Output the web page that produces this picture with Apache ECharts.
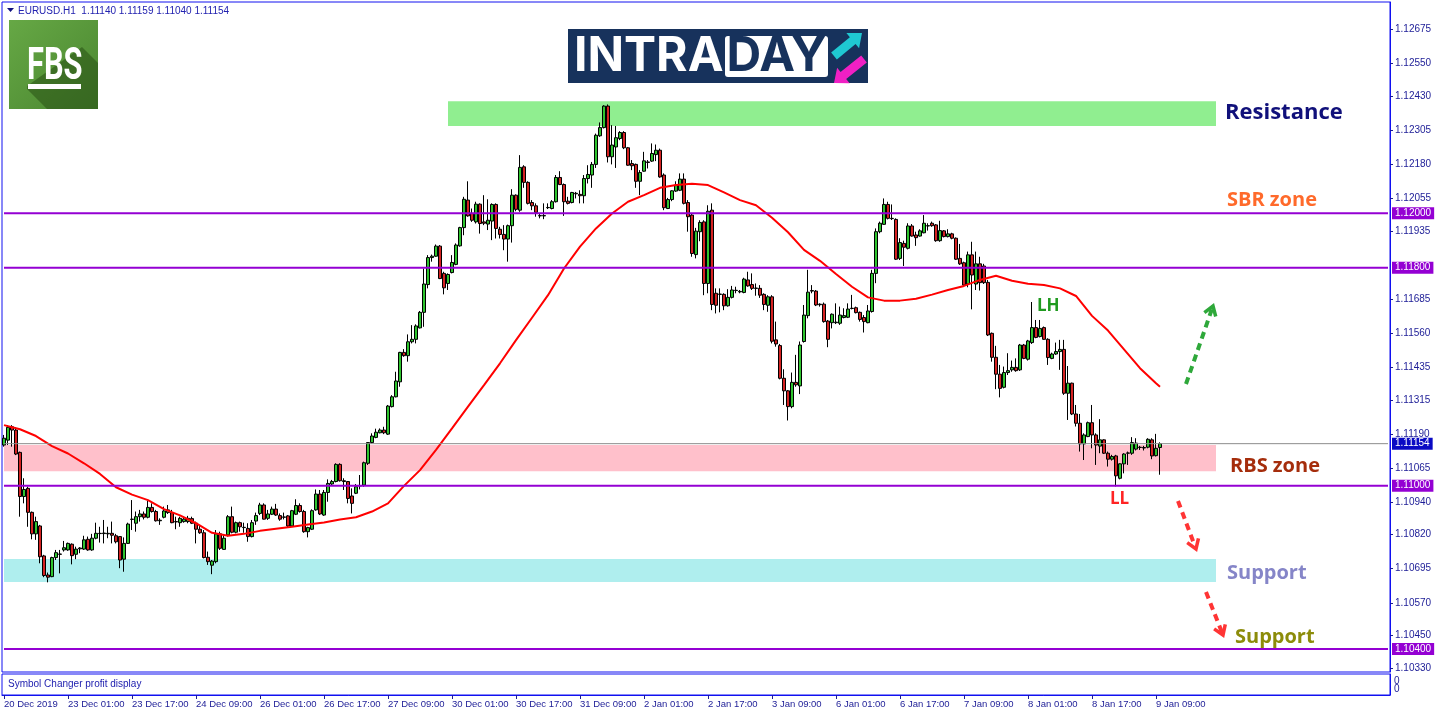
<!DOCTYPE html>
<html><head><meta charset="utf-8">
<script src="https://cdn.jsdelivr.net/npm/echarts@6/dist/echarts.min.js"></script>
<style>html,body{margin:0;padding:0;background:#fff}#c{width:1436px;height:716px}</style>
</head><body><div id="c"></div>
<script>
// ---------------- DATA ----------------
const symbolTitle = 'EURUSD.H1  1.11140 1.11159 1.11040 1.11154';
const tickLabels = ['20 Dec 2019','23 Dec 01:00','23 Dec 17:00','24 Dec 09:00','26 Dec 01:00','26 Dec 17:00','27 Dec 09:00','30 Dec 01:00','30 Dec 17:00','31 Dec 09:00','2 Jan 01:00','2 Jan 17:00','3 Jan 09:00','6 Jan 01:00','6 Jan 17:00','7 Jan 09:00','8 Jan 01:00','8 Jan 17:00','9 Jan 09:00'];
const barsPerTick = 16;
const totalSlots = 347; // H1 bars incl. empty future space
// [open, close, low, high]
const candles = [
[1.11149,1.11174,1.11143,1.11186],[1.11167,1.11214,1.11149,1.11222],[1.11216,1.11204,1.11143,1.11222],[1.11204,1.11116,1.11112,1.11214],
[1.11122,1.10960,1.10886,1.11125],[1.10960,1.10986,1.10935,1.11027],[1.10990,1.10902,1.10849,1.10996],[1.10902,1.10823,1.10803,1.10905],
[1.10823,1.10868,1.10801,1.10886],[1.10852,1.10739,1.10715,1.10856],[1.10742,1.10670,1.10664,1.10746],[1.10672,1.10664,1.10645,1.10681],
[1.10666,1.10736,1.10664,1.10739],[1.10736,1.10754,1.10727,1.10764],[1.10749,1.10748,1.10678,1.10764],[1.10764,1.10772,1.10758,1.10797],
[1.10764,1.10788,1.10761,1.10791],[1.10785,1.10743,1.10711,1.10788],[1.10748,1.10767,1.10730,1.10776],[1.10768,1.10771,1.10752,1.10774],
[1.10767,1.10801,1.10764,1.10816],[1.10803,1.10764,1.10761,1.10813],[1.10764,1.10807,1.10761,1.10823],[1.10807,1.10825,1.10803,1.10864],
[1.10825,1.10824,1.10791,1.10849],[1.10824,1.10826,1.10788,1.10874],[1.10823,1.10825,1.10807,1.10849],[1.10825,1.10818,1.10788,1.10868],
[1.10816,1.10794,1.10788,1.10823],[1.10813,1.10727,1.10697,1.10815],[1.10730,1.10788,1.10684,1.10810],[1.10788,1.10859,1.10786,1.10864],
[1.10876,1.10877,1.10837,1.10947],[1.10862,1.10886,1.10831,1.10905],[1.10886,1.10896,1.10868,1.10911],[1.10896,1.10884,1.10876,1.10905],
[1.10884,1.10920,1.10880,1.10945],[1.10920,1.10905,1.10901,1.10935],[1.10905,1.10871,1.10868,1.10911],[1.10871,1.10873,1.10856,1.10880],
[1.10884,1.10907,1.10880,1.10923],[1.10901,1.10911,1.10896,1.10929],[1.10901,1.10864,1.10862,1.10911],[1.10868,1.10867,1.10840,1.10886],
[1.10864,1.10880,1.10849,1.10886],[1.10868,1.10877,1.10864,1.10886],[1.10868,1.10880,1.10862,1.10889],[1.10879,1.10862,1.10859,1.10886],
[1.10862,1.10840,1.10788,1.10868],[1.10840,1.10827,1.10823,1.10856],[1.10827,1.10736,1.10733,1.10837],[1.10737,1.10721,1.10709,1.10758],
[1.10708,1.10723,1.10675,1.10727],[1.10721,1.10823,1.10715,1.10837],[1.10823,1.10770,1.10764,1.10831],[1.10766,1.10807,1.10764,1.10819],
[1.10819,1.10886,1.10813,1.10892],[1.10886,1.10829,1.10825,1.10923],[1.10829,1.10864,1.10825,1.10868],[1.10864,1.10849,1.10831,1.10868],
[1.10846,1.10847,1.10827,1.10864],[1.10843,1.10813,1.10794,1.10862],[1.10813,1.10864,1.10810,1.10874],[1.10870,1.10890,1.10856,1.10901],
[1.10898,1.10929,1.10892,1.10937],[1.10929,1.10877,1.10876,1.10935],[1.10880,1.10896,1.10874,1.10911],[1.10895,1.10914,1.10892,1.10923],
[1.10914,1.10892,1.10889,1.10933],[1.10890,1.10877,1.10871,1.10898],[1.10884,1.10885,1.10876,1.10901],[1.10889,1.10852,1.10847,1.10892],
[1.10852,1.10908,1.10849,1.10911],[1.10895,1.10927,1.10892,1.10950],[1.10927,1.10905,1.10901,1.10935],[1.10905,1.10831,1.10827,1.10911],
[1.10831,1.10846,1.10810,1.10849],[1.10840,1.10908,1.10837,1.10913],[1.10911,1.10969,1.10908,1.10986],[1.10969,1.10896,1.10892,1.10984],
[1.10892,1.10975,1.10889,1.10984],[1.10975,1.11008,1.10941,1.11023],[1.11006,1.11015,1.11002,1.11021],[1.11015,1.11078,1.11012,1.11082],
[1.11078,1.11018,1.11015,1.11082],[1.11018,1.11015,1.10984,1.11027],[1.11015,1.10953,1.10935,1.11017],[1.10962,1.10935,1.10898,1.10990],
[1.10972,1.10996,1.10969,1.11006],[1.10999,1.11000,1.10986,1.11039],[1.11002,1.11084,1.10996,1.11088],[1.11082,1.11158,1.11076,1.11160],
[1.11158,1.11182,1.11155,1.11192],[1.11177,1.11196,1.11174,1.11209],[1.11194,1.11204,1.11192,1.11210],[1.11204,1.11194,1.11189,1.11216],
[1.11189,1.11292,1.11186,1.11296],[1.11290,1.11326,1.11287,1.11332],[1.11326,1.11384,1.11324,1.11418],[1.11381,1.11489,1.11363,1.11491],
[1.11489,1.11477,1.11473,1.11501],[1.11477,1.11528,1.11455,1.11555],[1.11528,1.11537,1.11522,1.11589],[1.11537,1.11586,1.11522,1.11592],
[1.11579,1.11636,1.11577,1.11641],[1.11636,1.11740,1.11583,1.11797],[1.11738,1.11837,1.11724,1.11846],[1.11837,1.11842,1.11822,1.11848],
[1.11842,1.11879,1.11840,1.11885],[1.11879,1.11760,1.11758,1.11883],[1.11779,1.11726,1.11702,1.11785],[1.11742,1.11775,1.11718,1.11779],
[1.11782,1.11819,1.11779,1.11846],[1.11812,1.11883,1.11809,1.11889],[1.11880,1.11947,1.11877,1.11950],[1.11947,1.12051,1.11919,1.12060],
[1.12048,1.11990,1.11987,1.12117],[1.11999,1.11974,1.11968,1.12017],[1.11968,1.12033,1.11962,1.12042],[1.12033,1.11962,1.11925,1.12036],
[1.11968,1.11963,1.11956,1.12066],[1.11960,1.11974,1.11938,1.12051],[1.11971,1.12032,1.11901,1.12036],[1.12032,1.11944,1.11907,1.12036],
[1.11941,1.11922,1.11907,1.11950],[1.11922,1.11905,1.11864,1.11956],[1.11905,1.11954,1.11822,1.11958],[1.11954,1.12066,1.11892,1.12088],
[1.12066,1.12014,1.12007,1.12069],[1.12011,1.12168,1.12005,1.12213],[1.12170,1.12113,1.12093,1.12176],[1.12113,1.12036,1.12032,1.12117],
[1.12039,1.12027,1.12011,1.12048],[1.12027,1.12003,1.11987,1.12036],[1.11990,1.11991,1.11981,1.11999],[1.11990,1.11991,1.11978,1.12036],
[1.12020,1.12021,1.12015,1.12036],[1.12017,1.12042,1.12014,1.12048],[1.12042,1.12131,1.12039,1.12140],[1.12131,1.12105,1.12103,1.12154],
[1.12105,1.12042,1.11990,1.12109],[1.12044,1.12036,1.12032,1.12060],[1.12039,1.12076,1.12036,1.12078],[1.12071,1.12073,1.12054,1.12078],
[1.12069,1.12064,1.12036,1.12084],[1.12064,1.12127,1.12036,1.12140],[1.12127,1.12142,1.12109,1.12176],[1.12140,1.12179,1.12093,1.12188],
[1.12179,1.12286,1.12166,1.12292],[1.12284,1.12314,1.12280,1.12333],[1.12314,1.12393,1.12311,1.12396],[1.12393,1.12207,1.12186,1.12399],
[1.12207,1.12250,1.12179,1.12323],[1.12243,1.12277,1.12166,1.12320],[1.12274,1.12296,1.12268,1.12301],[1.12296,1.12240,1.12235,1.12301],
[1.12240,1.12176,1.12174,1.12243],[1.12182,1.12174,1.12158,1.12195],[1.12179,1.12117,1.12093,1.12182],[1.12117,1.12149,1.12066,1.12158],
[1.12154,1.12192,1.12152,1.12225],[1.12188,1.12186,1.12164,1.12195],[1.12191,1.12219,1.12188,1.12256],[1.12215,1.12231,1.12191,1.12252],
[1.12231,1.12133,1.12130,1.12237],[1.12140,1.12020,1.12011,1.12146],[1.12017,1.12050,1.12015,1.12056],[1.12050,1.12082,1.12044,1.12084],
[1.12081,1.12103,1.12078,1.12117],[1.12084,1.12125,1.12081,1.12146],[1.12125,1.12036,1.12032,1.12146],[1.12039,1.11987,1.11932,1.12048],
[1.11993,1.11852,1.11840,1.11999],[1.11848,1.11934,1.11834,1.11946],[1.11932,1.11966,1.11897,1.11974],[1.11968,1.11742,1.11699,1.11974],
[1.11742,1.12007,1.11706,1.12029],[1.12011,1.11665,1.11644,1.12036],[1.11706,1.11662,1.11632,1.11724],[1.11702,1.11703,1.11636,1.11724],
[1.11702,1.11660,1.11644,1.11706],[1.11660,1.11691,1.11657,1.11721],[1.11691,1.11718,1.11687,1.11733],[1.11716,1.11717,1.11706,1.11730],
[1.11711,1.11713,1.11706,1.11718],[1.11709,1.11758,1.11706,1.11763],[1.11755,1.11733,1.11730,1.11785],[1.11738,1.11724,1.11718,1.11779],
[1.11724,1.11725,1.11697,1.11742],[1.11724,1.11699,1.11689,1.11736],[1.11702,1.11665,1.11644,1.11706],[1.11662,1.11693,1.11638,1.11699],
[1.11693,1.11530,1.11522,1.11699],[1.11535,1.11520,1.11510,1.11602],[1.11514,1.11394,1.11390,1.11520],[1.11394,1.11348,1.11296,1.11427],
[1.11348,1.11290,1.11239,1.11351],[1.11290,1.11379,1.11284,1.11415],[1.11379,1.11370,1.11363,1.11480],[1.11366,1.11516,1.11336,1.11529],
[1.11529,1.11626,1.11525,1.11663],[1.11624,1.11710,1.11614,1.11792],[1.11716,1.11714,1.11706,1.11736],[1.11714,1.11663,1.11659,1.11718],
[1.11666,1.11664,1.11657,1.11669],[1.11666,1.11602,1.11598,1.11672],[1.11604,1.11537,1.11508,1.11608],[1.11598,1.11629,1.11577,1.11632],
[1.11598,1.11600,1.11593,1.11669],[1.11596,1.11626,1.11590,1.11657],[1.11617,1.11624,1.11614,1.11651],[1.11618,1.11648,1.11615,1.11669],
[1.11650,1.11651,1.11647,1.11700],[1.11653,1.11635,1.11632,1.11657],[1.11636,1.11610,1.11602,1.11639],[1.11617,1.11602,1.11562,1.11626],
[1.11598,1.11641,1.11596,1.11663],[1.11639,1.11779,1.11635,1.11792],[1.11779,1.11932,1.11743,1.11944],[1.11932,1.11963,1.11926,1.11969],
[1.11959,1.12032,1.11957,1.12054],[1.12032,1.11981,1.11977,1.12042],[1.11981,1.11980,1.11975,1.12032],[1.11977,1.11831,1.11828,1.11981],
[1.11834,1.11892,1.11828,1.11908],[1.11889,1.11875,1.11806,1.11899],[1.11871,1.11953,1.11867,1.11963],[1.11953,1.11916,1.11914,1.11960],
[1.11920,1.11910,1.11880,1.11932],[1.11916,1.11935,1.11914,1.11941],[1.11928,1.11963,1.11926,1.11993],[1.11953,1.11954,1.11936,1.11963],
[1.11963,1.11954,1.11950,1.11969],[1.11957,1.11899,1.11895,1.11960],[1.11899,1.11936,1.11895,1.11972],[1.11935,1.11914,1.11911,1.11938],
[1.11914,1.11924,1.11911,1.11941],[1.11924,1.11908,1.11904,1.11928],[1.11908,1.11831,1.11828,1.11911],[1.11834,1.11814,1.11810,1.11887],
[1.11818,1.11736,1.11733,1.11822],[1.11740,1.11847,1.11728,1.11859],[1.11847,1.11773,1.11647,1.11895],[1.11740,1.11814,1.11718,1.11859],
[1.11814,1.11745,1.11716,1.11840],[1.11806,1.11745,1.11740,1.11814],[1.11746,1.11553,1.11549,1.11755],[1.11559,1.11471,1.11455,1.11562],
[1.11471,1.11409,1.11354,1.11513],[1.11409,1.11357,1.11324,1.11443],[1.11361,1.11415,1.11357,1.11437],[1.11415,1.11422,1.11406,1.11486],
[1.11425,1.11434,1.11418,1.11459],[1.11434,1.11422,1.11418,1.11467],[1.11425,1.11516,1.11421,1.11520],[1.11516,1.11467,1.11464,1.11520],
[1.11464,1.11531,1.11459,1.11535],[1.11525,1.11580,1.11520,1.11674],[1.11580,1.11544,1.11541,1.11608],[1.11547,1.11577,1.11544,1.11608],
[1.11580,1.11537,1.11535,1.11584],[1.11537,1.11470,1.11443,1.11541],[1.11467,1.11483,1.11464,1.11488],[1.11483,1.11492,1.11480,1.11525],
[1.11492,1.11500,1.11425,1.11535],[1.11500,1.11339,1.11333,1.11535],[1.11339,1.11376,1.11241,1.11439],[1.11376,1.11263,1.11259,1.11378],
[1.11263,1.11229,1.11217,1.11296],[1.11229,1.11153,1.11125,1.11263],[1.11153,1.11186,1.11094,1.11192],[1.11180,1.11231,1.11178,1.11235],
[1.11231,1.11186,1.11137,1.11296],[1.11186,1.11149,1.11076,1.11192],[1.11145,1.11168,1.11119,1.11244],[1.11168,1.11119,1.11116,1.11170],
[1.11119,1.11097,1.11070,1.11125],[1.11097,1.11107,1.11092,1.11113],[1.11109,1.11036,1.10997,1.11113],[1.11027,1.11080,1.11023,1.11082],
[1.11080,1.11116,1.11045,1.11119],[1.11119,1.11120,1.11076,1.11125],[1.11119,1.11158,1.11113,1.11178],[1.11134,1.11156,1.11129,1.11174],
[1.11140,1.11141,1.11131,1.11146],[1.11140,1.11138,1.11129,1.11146],[1.11141,1.11170,1.11137,1.11174],[1.11168,1.11109,1.11097,1.11174],
[1.11110,1.11137,1.11107,1.11190],[1.11140,1.11154,1.11040,1.11159]
];
// moving average read at sampled bars: [barIndex, value]
const maPoints = [
[0,1.11222],[4,1.11207],[8,1.11182],[12,1.11145],[16,1.11118],[20,1.11082],[24,1.11043],[28,1.10994],
[32,1.10967],[36,1.10947],[40,1.10914],[44,1.10891],[48,1.10862],[52,1.10827],[56,1.10816],[60,1.10823],
[64,1.10834],[68,1.10842],[72,1.10849],[76,1.10857],[80,1.10865],[84,1.10876],[88,1.10884],[92,1.10905],
[96,1.10935],[100,1.10999],[104,1.11057],[108,1.11131],[112,1.11210],[116,1.11290],[120,1.11369],[124,1.11449],
[128,1.11534],[132,1.11616],[136,1.11699],[140,1.11797],[144,1.11877],[148,1.11944],[152,1.11999],[156,1.12042],
[160,1.12066],[164,1.12093],[168,1.12103],[172,1.12108],[176,1.12103],[180,1.12076],[184,1.12048],[188,1.12029],
[192,1.11983],[196,1.11930],[200,1.11865],[204,1.11825],[208,1.11777],[212,1.11730],[216,1.11691],[220,1.11679],
[224,1.11679],[228,1.11686],[232,1.11701],[236,1.11718],[240,1.11733],[244,1.11755],[248,1.11770],[252,1.11752],
[256,1.11741],[260,1.11736],[264,1.11724],[268,1.11696],[272,1.11623],[276,1.11569],[280,1.11500],[284,1.11431],
[288,1.11376],[289,1.11363]
];
const yTickValues = [1.12675,1.12550,1.12430,1.12305,1.12180,1.12055,1.11935,1.11685,1.11560,1.11435,1.11315,1.11190,1.11065,1.10940,1.10820,1.10695,1.10570,1.10450,1.10330];
const yMin = 1.10316, yMax = 1.12775;
const purpleLevels = [1.12000, 1.11800, 1.11000, 1.10400];
const currentPrice = 1.11154;
// zones: [fromBar, toBar, lowPrice, highPrice]
const resistanceZone = [111, 303, 1.12320, 1.12411];
const rbsZone = [0, 303, 1.11053, 1.11149];
const supportZone = [0, 303, 1.10646, 1.10731];

// ---------------- CHART ----------------
const categories = Array.from({length: totalSlots}, (_, i) => String(i));
const lastTickBar = (tickLabels.length - 1) * barsPerTick;
const isTick = (idx) => idx % barsPerTick === 0 && idx <= lastTickBar;
const AXC = '#1c1c96';
const FONT = '"Liberation Sans", Arial, sans-serif';
const ANN = '"Open Sans", "Noto Sans", sans-serif';

function zoneArea(z, color) {
  return [{xAxis: z[0], yAxis: z[3], itemStyle: {color: color, opacity: 1}}, {xAxis: z[1], yAxis: z[2]}];
}
function levelSeries(value, color, width, labelBg) {
  return {
    type: 'line', xAxisIndex: 0, yAxisIndex: 0, z: 5, silent: true, symbol: 'none', animation: false,
    data: [[0, value], [totalSlots - 1, value]],
    lineStyle: {color: color, width: width, type: 'solid'},
    endLabel: {show: true, distance: 4, formatter: () => value.toFixed(5), color: '#ffffff', backgroundColor: labelBg,
               fontSize: 10, fontFamily: FONT, padding: [1, 3, 1, 3]},
    emphasis: {disabled: true}
  };
}
function arrowPoly(sx, sy, tx, ty, sw, hw, hl) {
  const dx = tx - sx, dy = ty - sy, L = Math.hypot(dx, dy), ux = dx / L, uy = dy / L, nx = -uy, ny = ux;
  const bx = tx - ux * hl, by = ty - uy * hl;
  return [[sx + nx * sw / 2, sy + ny * sw / 2], [bx + nx * sw / 2, by + ny * sw / 2], [bx + nx * hw / 2, by + ny * hw / 2], [tx, ty],
          [bx - nx * hw / 2, by - ny * hw / 2], [bx - nx * sw / 2, by - ny * sw / 2], [sx - nx * sw / 2, sy - ny * sw / 2]];
}
function dashedArrow(sx, sy, tx, ty, color) {
  const dx = tx - sx, dy = ty - sy, L = Math.hypot(dx, dy), ux = dx / L, uy = dy / L, nx = -uy, ny = ux;
  const hl = 9, hw = 6;
  const bx = tx - ux * hl, by = ty - uy * hl;
  return [
    {type: 'line', shape: {x1: sx, y1: sy, x2: tx - ux * 3, y2: ty - uy * 3}, style: {stroke: color, lineWidth: 4, lineDash: [7, 5]}, z: 20},
    {type: 'polyline', shape: {points: [[bx + nx * hw, by + ny * hw], [tx, ty], [bx - nx * hw, by - ny * hw]]}, style: {stroke: color, lineWidth: 3.5, fill: null, lineJoin: 'miter'}, z: 20}
  ];
}
function ann(text, x, y, color, size) {
  return {type: 'text', x: x, y: y, z: 20, style: {text: text, fill: color, font: 'bold ' + size + 'px ' + ANN, textAlign: 'left', textVerticalAlign: 'middle'}};
}

const chart = echarts.init(document.getElementById('c'), null, {renderer: 'canvas'});
const option = {
  animation: false,
  backgroundColor: '#ffffff',
  grid: [
    {left: 2, top: 2, width: 1388, height: 670, show: true, borderColor: '#1010f0', borderWidth: 1, backgroundColor: 'transparent'},
    {left: 2, top: 674, width: 1388, height: 21, show: true, borderColor: '#1010f0', borderWidth: 1, backgroundColor: 'transparent'}
  ],
  xAxis: [
    {type: 'category', gridIndex: 0, data: categories, boundaryGap: true,
     axisLine: {show: false}, axisTick: {show: false}, axisLabel: {show: false}, splitLine: {show: false}},
    {type: 'category', gridIndex: 1, data: categories, boundaryGap: true,
     axisLine: {show: true, lineStyle: {color: '#1010f0'}},
     axisTick: {show: true, alignWithLabel: true, length: 4, interval: isTick, lineStyle: {color: AXC}},
     axisLabel: {show: true, interval: isTick, align: 'left', margin: 4, fontSize: 9.5, fontFamily: FONT, color: AXC,
       formatter: (v, idx) => tickLabels[idx / barsPerTick] || ''},
     splitLine: {show: false}}
  ],
  yAxis: [
    {type: 'value', gridIndex: 0, position: 'right', min: yMin, max: yMax, scale: true,
     axisLine: {show: true, lineStyle: {color: '#1010f0'}},
     axisTick: {show: true, length: 3, customValues: yTickValues, lineStyle: {color: AXC}},
     axisLabel: {show: true, customValues: yTickValues, formatter: v => v.toFixed(5), margin: 5, fontSize: 10, fontFamily: FONT, color: AXC},
     splitLine: {show: false}},
    {type: 'value', gridIndex: 1, position: 'right', min: 0, max: 1,
     axisLine: {show: true, lineStyle: {color: '#1010f0'}}, axisTick: {show: false}, axisLabel: {show: false}, splitLine: {show: false}}
  ],
  series: [
    {type: 'line', name: 'zones', xAxisIndex: 0, yAxisIndex: 0, data: [], z: 1, silent: true,
     markArea: {silent: true, data: [zoneArea(resistanceZone, '#90ee90'), zoneArea(rbsZone, '#ffc0cb'), zoneArea(supportZone, '#afeeee')]}},
    {type: 'candlestick', name: 'EURUSD', xAxisIndex: 0, yAxisIndex: 0, data: candles, z: 3, barWidth: 3,
     itemStyle: {color: '#2fc42f', color0: '#d42222', borderColor: '#000', borderColor0: '#000', borderColorDoji: '#000', borderWidth: 1}},
    {type: 'line', name: 'MA', xAxisIndex: 0, yAxisIndex: 0, data: maPoints, z: 4, symbol: 'none', smooth: false, connectNulls: true,
     lineStyle: {color: '#ff0000', width: 2}, silent: true},
    levelSeries(currentPrice, '#8c8c8c', 1, '#0a0ac4'),
    ...purpleLevels.map(v => levelSeries(v, '#9400d3', 2, '#9400d3')),
    {type: 'line', name: 'panel', xAxisIndex: 1, yAxisIndex: 1, data: [], silent: true}
  ],
  graphic: [
    // header
    {type: 'polygon', shape: {points: [[7, 8], [14, 8], [10.5, 12]]}, style: {fill: '#101080'}, z: 20},
    {type: 'text', x: 18, y: 11, z: 20, style: {text: symbolTitle, fill: '#2222b0', font: '10px ' + FONT, textVerticalAlign: 'middle'}},
    // FBS logo
    {type: 'rect', shape: {x: 9, y: 20, width: 89, height: 89}, z: 20,
     style: {fill: new echarts.graphic.LinearGradient(0, 0, 1, 1, [{offset: 0, color: '#66a845'}, {offset: 1, color: '#4a8630'}])}},
    {type: 'polygon', shape: {points: [[27, 86], [82, 47], [98, 63], [98, 109], [47, 109], [27, 89]]}, z: 21, style: {fill: 'rgba(40,80,20,0.55)'}},
    {type: 'text', x: 27, y: 68, z: 22, scaleX: 0.7, originX: 0, originY: 0,
     style: {text: 'FBS', fill: '#ffffff', font: 'bold 44px Roboto, "Liberation Sans", sans-serif', textVerticalAlign: 'middle'}},
    {type: 'rect', shape: {x: 28, y: 84, width: 53, height: 5}, style: {fill: '#ffffff'}, z: 22},
    // INTRADAY banner
    {type: 'rect', shape: {x: 568, y: 29, width: 300, height: 54}, style: {fill: '#17325c'}, z: 20},
    {type: 'text', x: 574, y: 57, z: 21, style: {text: 'INTRA', fill: '#ffffff', font: 'bold 48px Inter, "Open Sans", sans-serif', textVerticalAlign: 'middle'}},
    {type: 'rect', shape: {x: 725, y: 36, width: 103, height: 41, r: 3}, style: {fill: '#ffffff'}, z: 21},
    {type: 'text', x: 776.5, y: 57, z: 22, style: {text: 'DAY', fill: '#17325c', font: 'bold 48px Inter, "Open Sans", sans-serif', textAlign: 'center', textVerticalAlign: 'middle'}},
    {type: 'polygon', shape: {points: arrowPoly(834, 56, 862, 33, 9, 20, 12)}, style: {fill: '#1fc8d2'}, z: 21},
    {type: 'polygon', shape: {points: arrowPoly(864, 59, 834, 83, 9, 20, 12)}, style: {fill: '#f020c4'}, z: 21},
    // annotations
    ann('Resistance', 1225, 113, '#10107a', 22),
    ann('SBR zone', 1227, 200, '#ff6a2b', 20),
    ann('RBS zone', 1230, 466, '#a52d0c', 20),
    ann('Support', 1227, 573, '#8585c8', 20),
    ann('Support', 1235, 637, '#8c8c0a', 20),
    ann('LH', 1037, 306, '#1f9a1f', 17),
    ann('LL', 1110, 499, '#ff2424', 17),
    ...dashedArrow(1186, 384, 1213, 306, '#2ea83a'),
    ...dashedArrow(1178, 501, 1196, 549, '#ff3434'),
    ...dashedArrow(1206, 592, 1223, 635, '#ff3434'),
    // indicator panel
    {type: 'text', x: 8, y: 684, z: 20, style: {text: 'Symbol Changer profit display', fill: '#2222b0', font: '10px ' + FONT, textVerticalAlign: 'middle'}},
    {type: 'text', x: 1394, y: 681, z: 20, style: {text: '0', fill: AXC, font: '10px ' + FONT, textVerticalAlign: 'middle'}},
    {type: 'text', x: 1394, y: 689, z: 20, style: {text: '0', fill: AXC, font: '10px ' + FONT, textVerticalAlign: 'middle'}}
  ]
};
chart.setOption(option);
</script>
</body></html>
